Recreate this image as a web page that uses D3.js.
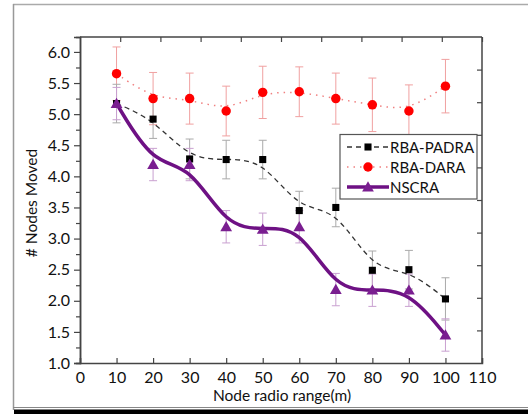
<!DOCTYPE html>
<html><head><meta charset="utf-8">
<script src="https://cdn.jsdelivr.net/npm/d3@7"></script>
<style>body{margin:0;background:#fff}svg{display:block}text{font-family:Lato,"Open Sans",sans-serif;fill:#111}</style>
</head><body><svg id="c" width="528" height="414"></svg>
<script>
const xValues = [10,20,30,40,50,60,70,80,90,100];
const padra = [5.17,4.92,4.28,4.27,4.27,3.45,3.5,2.49,2.5,2.03];
const padraErr = [0.31,0.31,0.32,0.31,0.31,0.31,0.31,0.31,0.31,0.34];
const dara = [5.65,5.25,5.25,5.05,5.35,5.36,5.25,5.15,5.05,5.45];
const daraErr = [0.43,0.42,0.41,0.4,0.42,0.4,0.41,0.43,0.42,0.43];
const nscra = [5.17,4.19,4.19,3.19,3.15,3.19,2.18,2.17,2.17,1.45];
const nscraErr = [0.26,0.26,0.26,0.26,0.26,0.26,0.26,0.26,0.26,0.26];
const xTicks = [0,10,20,30,40,50,60,70,80,90,100,110];
const yTicks = [1.0,1.5,2.0,2.5,3.0,3.5,4.0,4.5,5.0,5.5,6.0];
const seriesNames = ["RBA-PADRA","RBA-DARA","NSCRA"];

const svg = d3.select("#c");
const L=80,R=482,T=37,B=363;
const x = d3.scaleLinear().domain([0,110]).range([L,R]);
const y = d3.scaleLinear().domain([1,6.24]).range([B,T]);
const aux = d3.scaleLinear().domain([0,10]);

// outer frame
svg.append("line").attr("x1",13).attr("x2",528).attr("y1",4.5).attr("y2",4.5).attr("stroke","#aaa").attr("stroke-width",1.5);
svg.append("line").attr("x1",13.5).attr("x2",13.5).attr("y1",4).attr("y2",410).attr("stroke","#999").attr("stroke-width",1.5);
svg.append("line").attr("x1",13).attr("x2",528).attr("y1",407.5).attr("y2",407.5).attr("stroke","#888").attr("stroke-width",1);
svg.append("rect").attr("x",14).attr("y",409.5).attr("width",514).attr("height",5).attr("fill","#000");

// axes
const ax = "#444";
const gx = svg.append("g").attr("transform",`translate(0,${B})`)
  .call(d3.axisBottom(x).tickValues(xTicks).tickSize(-5).tickPadding(9).tickFormat(d3.format("d")));
const gy = svg.append("g").attr("transform",`translate(${L},0)`)
  .call(d3.axisLeft(y).tickValues(yTicks).tickSize(6).tickPadding(4).tickFormat(d3.format(".1f")));
const gym = svg.append("g").attr("transform",`translate(${L},0)`)
  .call(d3.axisLeft(y).tickValues(d3.range(1.25,6.24,0.5)).tickSize(4).tickFormat(""));
const gt = svg.append("g").attr("transform",`translate(0,${T})`)
  .call(d3.axisTop(aux.copy().range([L,R])).tickValues(d3.range(1,11)).tickSize(-5).tickFormat(""));
const gr = svg.append("g").attr("transform",`translate(${R},0)`)
  .call(d3.axisRight(aux.copy().range([B,T])).tickValues(d3.range(1,10)).tickSize(-5).tickFormat(""));
[gx,gy,gym,gt,gr].forEach(g=>{
  g.select(".domain").attr("stroke",ax).attr("stroke-width",1.5);
  g.selectAll(".tick line").attr("stroke",ax).attr("stroke-width",1.2);
  g.selectAll("text").style("font-size","16px").attr("fill","#111");
});
gt.select(".domain").attr("d",`M${L},0H${R}`);
gr.select(".domain").attr("d",`M0,${B}V${T}`);

// labels
svg.append("text").attr("x",(L+R)/2+1).attr("y",401).attr("text-anchor","middle").style("font-size","15.5px").text("Node radio range(m)");
svg.append("text").attr("transform",`translate(37,${(T+B)/2+3}) rotate(-90)`).attr("text-anchor","middle").style("font-size","15.5px").text("# Nodes Moved");

const pts = (vals)=>xValues.map((v,i)=>[v,vals[i]]);
const line = d3.line().x(d=>x(d[0])).y(d=>y(d[1])).curve(d3.curveBasis);

function errBars(vals, errs, col){
  const g = svg.append("g").attr("stroke",col).attr("stroke-width",1);
  xValues.forEach((v,i)=>{
    const cx=x(v), t=y(vals[i]+errs[i]), b=y(vals[i]-errs[i]);
    g.append("line").attr("x1",cx).attr("x2",cx).attr("y1",t).attr("y2",b);
    g.append("line").attr("x1",cx-4).attr("x2",cx+4).attr("y1",t).attr("y2",t);
    g.append("line").attr("x1",cx-4).attr("x2",cx+4).attr("y1",b).attr("y2",b);
  });
}
errBars(dara,daraErr,"#f0a0a0");
errBars(padra,padraErr,"#aaa");
errBars(nscra,nscraErr,"#c9a0d0");

const purple="#6e1184";
svg.append("path").attr("d",line(pts(dara))).attr("fill","none").attr("stroke","#f08080").attr("stroke-width",1.5).attr("stroke-dasharray","1.5,5");
svg.append("path").attr("d",line(pts(padra))).attr("fill","none").attr("stroke","#333").attr("stroke-width",1.3).attr("stroke-dasharray","5,4");
svg.append("path").attr("d",line(pts(nscra))).attr("fill","none").attr("stroke",purple).attr("stroke-width",3.5);

const sq = d3.symbol().type(d3.symbolSquare).size(50);
const ci = d3.symbol().type(d3.symbolCircle).size(70);
const tr = d3.symbol().type(d3.symbolTriangle).size(60);
svg.append("g").selectAll("path").data(pts(padra)).join("path").attr("d",sq).attr("transform",d=>`translate(${x(d[0])},${y(d[1])})`).attr("fill","#000");
svg.append("g").selectAll("path").data(pts(dara)).join("path").attr("d",ci).attr("transform",d=>`translate(${x(d[0])},${y(d[1])})`).attr("fill","#f00");
svg.append("g").selectAll("path").data(pts(nscra)).join("path").attr("d",tr).attr("transform",d=>`translate(${x(d[0])},${y(d[1])+1})`).attr("fill","#7a1e90");

// legend
const lg = svg.append("g");
lg.append("rect").attr("x",340).attr("y",134.5).attr("width",137).attr("height",64.5).attr("fill","#fff").attr("stroke","#555").attr("stroke-width",1.2);
const rows=[{n:seriesNames[0],c:"#333",da:"5,4",w:1.3,s:sq,f:"#000"},{n:seriesNames[1],c:"#f08080",da:"1.5,5",w:1.5,s:ci,f:"#f00"},{n:seriesNames[2],c:purple,da:null,w:3.5,s:tr,f:"#7a1e90"}];
rows.forEach((r,i)=>{
  const yy=147+i*20;
  lg.append("line").attr("x1",347).attr("x2",389).attr("y1",yy).attr("y2",yy).attr("stroke",r.c).attr("stroke-width",r.w).attr("stroke-dasharray",r.da);
  lg.append("path").attr("d",r.s).attr("transform",`translate(368,${yy+(i==2?1:0)})`).attr("fill",r.f);
  lg.append("text").attr("x",390).attr("y",yy+5.5).style("font-size","15px").text(r.n);
});
</script></body></html>
